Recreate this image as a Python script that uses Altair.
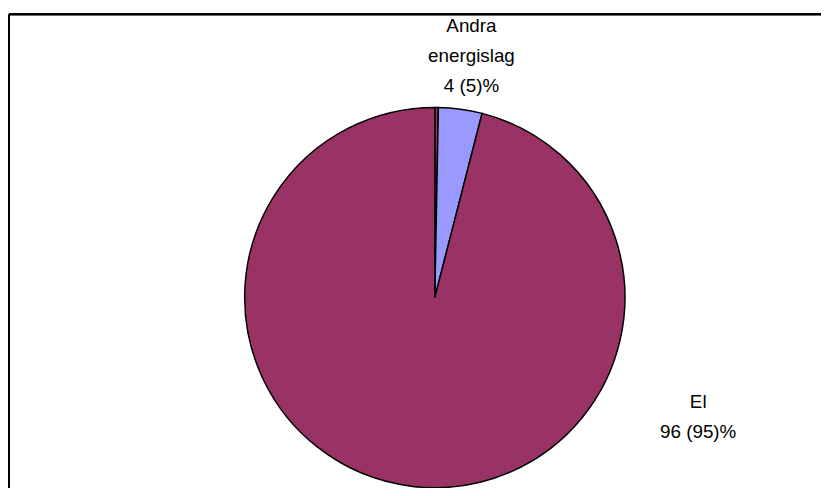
import altair as alt
import pandas as pd

categories = ["Övrigt", "Andra energislag", "El"]
values = [0.3, 3.7, 96.0]
colors = ["#993366", "#9999FF", "#993366"]
order = [0, 1, 2]
label_texts = [["Andra", "energislag", "4 (5)%"], ["El", "96 (95)%"]]

df = pd.DataFrame({"kategori": categories, "andel": values, "ordning": order})

W, H = 820, 476
CX, CY, R = 430, 286, 192

pie = alt.Chart(df).mark_arc(radius=R, stroke="black", strokeWidth=1.5).encode(
    theta=alt.Theta("andel:Q", stack=True),
    order=alt.Order("ordning:Q"),
    color=alt.Color("kategori:N", scale=alt.Scale(domain=categories, range=colors), legend=None),
    x=alt.value(CX),
    y=alt.value(CY),
)

font = dict(font="Liberation Sans", fontSize=19, lineHeight=30, align="center",
            baseline="alphabetic", color="black")

lab1 = alt.Chart(pd.DataFrame({"t": [label_texts[0]]})).mark_text(**font).encode(
    text="t", x=alt.value(467), y=alt.value(18)
)
lab2 = alt.Chart(pd.DataFrame({"t": [label_texts[1]]})).mark_text(**font).encode(
    text="t", x=alt.value(696), y=alt.value(398)
)

frame_top = alt.Chart(df).mark_rule(color="black", strokeWidth=2).encode(
    x=alt.value(0), x2=alt.value(W + 10), y=alt.value(0)
)
frame_left = alt.Chart(df).mark_rule(color="black", strokeWidth=2).encode(
    x=alt.value(0), y=alt.value(0), y2=alt.value(H + 10)
)

chart = (frame_top + frame_left + pie + lab1 + lab2).properties(
    width=W, height=H, padding={"left": 1, "top": 4, "right": 0, "bottom": 0},
    autosize=alt.AutoSizeParams(type="none"),
).configure_view(strokeWidth=0)

chart.save("out.html", embed_options={"renderer": "svg", "actions": False})
